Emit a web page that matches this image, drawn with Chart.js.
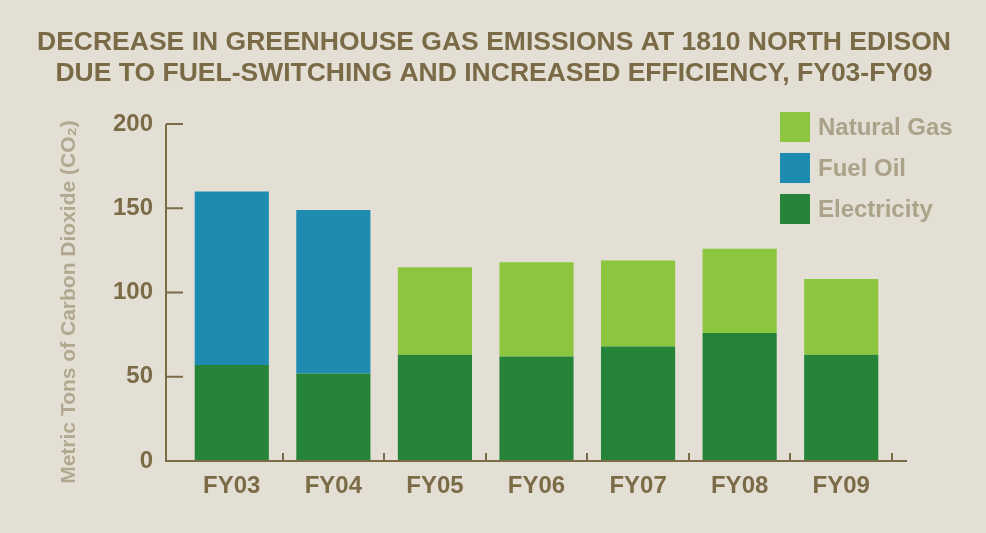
<!DOCTYPE html>
<html>
<head>
<meta charset="utf-8">
<script src="https://cdn.jsdelivr.net/npm/chart.js@4.4.1/dist/chart.umd.min.js"></script>
<style>
  html, body { margin: 0; padding: 0; background: #e3dfd5; }
  #wrap { width: 986px; height: 533px; }
</style>
</head>
<body>
<div id="wrap"><canvas id="ghgChart" width="986" height="533"></canvas></div>
<script>
// emissions by fiscal year, metric tons CO2
const years = ["FY03", "FY04", "FY05", "FY06", "FY07", "FY08", "FY09"];
const electricity = [57, 52, 63, 62, 68, 76, 63];
const fuelOil = [103, 97, 0, 0, 0, 0, 0];
const naturalGas = [0, 0, 52, 56, 51, 50, 45];
const yTicks = [0, 50, 100, 150, 200];
const titleLines = [
    "DECREASE IN GREENHOUSE GAS EMISSIONS AT 1810 NORTH EDISON",
    "DUE TO FUEL-SWITCHING AND INCREASED EFFICIENCY, FY03-FY09"
];

const axisColor = "#7b6b47";
const fontFam = "'Liberation Sans', Arial, sans-serif";

// title, axis lines, ticks and legend, drawn the way the original does them
const axesAndLegend = {
    id: "axesAndLegend",
    afterDatasetsDraw(chart) {
        const ctx = chart.ctx;
        const area = chart.chartArea;
        const x = chart.scales.x;
        const y = chart.scales.y;
        const axisX = area.left - 15;
        const base = y.getPixelForValue(0);

        ctx.save();
        // title across the whole canvas
        ctx.font = "bold 26.5px " + fontFam;
        ctx.fillStyle = "#7a6a46";
        ctx.textAlign = "center";
        ctx.textBaseline = "middle";
        titleLines.forEach((t, i) => ctx.fillText(t, 494, 43 + i * 31));

        ctx.strokeStyle = axisColor;
        ctx.lineWidth = 2;
        ctx.beginPath();
        ctx.moveTo(axisX, y.getPixelForValue(200));
        ctx.lineTo(axisX, base);
        ctx.lineTo(area.right + 15, base);
        yTicks.forEach(v => {
            const py = y.getPixelForValue(v);
            ctx.moveTo(axisX, py);
            ctx.lineTo(area.left + 2, py);
        });
        const half = (x.getPixelForValue(1) - x.getPixelForValue(0)) / 2;
        years.forEach((_, i) => {
            const px = Math.round(x.getPixelForValue(i) + half);
            ctx.moveTo(px, base);
            ctx.lineTo(px, base - 8);
        });
        ctx.stroke();

        // y axis title, sits a little below the middle in the original
        ctx.translate(69, 302);
        ctx.rotate(-Math.PI / 2);
        ctx.font = "bold 21px " + fontFam;
        ctx.fillStyle = "#b2a890";
        ctx.fillText("Metric Tons of Carbon Dioxide (CO₂)", 0, 0);
        ctx.setTransform(1, 0, 0, 1, 0, 0);

        // legend, top item is the top of the stack
        const items = chart.data.datasets.slice().reverse();
        ctx.font = "bold 24px " + fontFam;
        ctx.textAlign = "left";
        items.forEach((ds, i) => {
            const top = 112 + i * 41;
            ctx.fillStyle = ds.backgroundColor;
            ctx.fillRect(780, top, 30, 30);
            ctx.fillStyle = "#aca28a";
            ctx.fillText(ds.label, 818, top + 16);
        });
        ctx.restore();
    }
};

const ctx = document.getElementById("ghgChart").getContext("2d");
new Chart(ctx, {
    type: "bar",
    data: {
        labels: years,
        datasets: [
            { label: "Electricity", data: electricity, backgroundColor: "#268438" },
            { label: "Fuel Oil", data: fuelOil, backgroundColor: "#1e8bb1" },
            { label: "Natural Gas", data: naturalGas, backgroundColor: "#8cc63f" }
        ]
    },
    options: {
        responsive: false,
        animation: false,
        layout: { padding: { left: 54, right: 94, top: 124, bottom: 0 } },
        datasets: { bar: { barPercentage: 0.73, categoryPercentage: 1 } },
        plugins: {
            legend: { display: false },
            tooltip: { enabled: false },
            title: { display: false }
        },
        scales: {
            x: {
                stacked: true,
                grid: { display: false, drawTicks: false },
                border: { display: false },
                ticks: {
                    color: axisColor,
                    padding: 11,
                    font: { family: fontFam, size: 24, weight: "bold" }
                },
                afterFit(scale) { scale.height = 72; }
            },
            y: {
                stacked: true,
                min: 0,
                max: 200,
                grid: { display: false, drawTicks: false },
                border: { display: false },
                afterBuildTicks(scale) { scale.ticks = yTicks.map(v => ({ value: v })); },
                ticks: {
                    color: axisColor,
                    padding: 28,
                    font: { family: fontFam, size: 24, weight: "bold" }
                },
                afterFit(scale) { scale.width = 127; }
            }
        }
    },
    plugins: [axesAndLegend]
});
</script>
</body>
</html>
